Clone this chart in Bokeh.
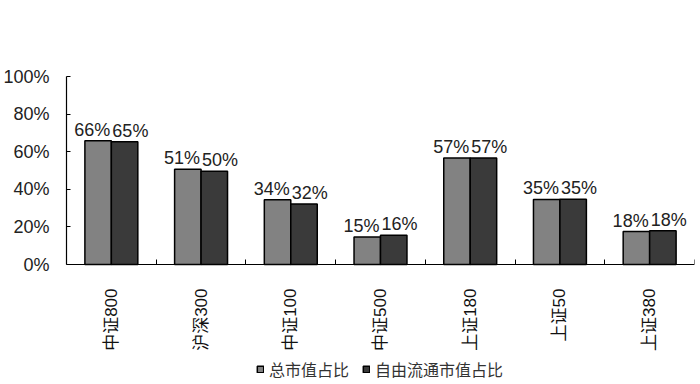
from bokeh.plotting import figure
from bokeh.models import (ColumnDataSource, Range1d, FixedTicker, Legend, LegendItem)
from bokeh.transform import dodge
from bokeh.embed import file_html
from bokeh.resources import INLINE
import math

categories = ["中证800", "沪深300", "中证100", "中证500", "上证180", "上证50", "上证380"]
total_share = [65.8, 50.6, 34.4, 14.6, 56.7, 34.6, 17.5]
free_share = [65.3, 49.6, 32.2, 15.6, 56.6, 34.7, 18.0]
series_names = ["总市值占比", "自由流通市值占比"]
y_ticks = [0, 20, 40, 60, 80, 100]

xs = [i + 0.5 for i in range(len(categories))]
src = ColumnDataSource(dict(
    x=xs,
    total=total_share,
    free=free_share,
    total_lbl=[f"{round(v)}%" for v in total_share],
    free_lbl=[f"{round(v)}%" for v in free_share],
))

LAT = "'Liberation Sans', 'Noto Sans CJK SC'"
CJK = "'Noto Sans CJK SC'"

# frame spans from the top margin to the bottom of the window; the value axis
# (0..100) occupies the upper 188 px, the rest holds category labels and legend
FRAME_H = 308
PX_PER_UNIT = 188 / 100
y_low = -(FRAME_H - 188) / PX_PER_UNIT

p = figure(frame_width=628, frame_height=FRAME_H, output_backend="svg",
           toolbar_location=None,
           x_range=Range1d(0, len(categories)), y_range=Range1d(y_low, 100),
           min_border_left=66, min_border_right=6, min_border_top=76,
           min_border_bottom=0)
p.outline_line_color = None
p.grid.grid_line_color = None
p.background_fill_color = "white"
p.border_fill_color = "white"

w = 0.295
r1 = p.vbar(x=dodge("x", -w / 2, range=p.x_range), top="total", width=w, source=src,
            fill_color="#828282", line_color="black", line_width=1.5)
r2 = p.vbar(x=dodge("x", w / 2, range=p.x_range), top="free", width=w, source=src,
            fill_color="#3a3a3a", line_color="black", line_width=1.5)

p.text(x="x", y="total", text="total_lbl", source=src, x_offset=-1, y_offset=-11,
       text_align="right", text_baseline="alphabetic", text_font_size="18px",
       text_font={"value": "Liberation Sans"}, text_color="#222222")
p.text(x="x", y="free", text="free_lbl", source=src, x_offset=1, y_offset=-11,
       text_align="left", text_baseline="alphabetic", text_font_size="18px",
       text_font={"value": "Liberation Sans"}, text_color="#222222")

# y axis
ya = p.yaxis[0]
ya.ticker = FixedTicker(ticks=y_ticks)
ya.major_label_overrides = {t: f"{t}%" for t in y_ticks}
ya.bounds = (0, 100)
ya.major_tick_in = 4
ya.major_tick_out = 0
ya.minor_tick_line_color = None
ya.major_label_standoff = 17
ya.major_label_text_font_size = "18px"
ya.major_label_text_font = "Liberation Sans"
ya.major_label_text_color = "#222222"
ya.axis_line_color = "black"
ya.axis_line_width = 1.2

# x axis, drawn at value 0
xa = p.xaxis[0]
xa.fixed_location = 0
xa.ticker = FixedTicker(ticks=xs, minor_ticks=list(range(len(categories) + 1)))
xa.major_label_overrides = {x: c for x, c in zip(xs, categories)}
xa.major_tick_line_color = None
xa.minor_tick_in = 5
xa.minor_tick_out = 0
xa.minor_tick_line_color = "black"
xa.major_label_orientation = math.pi / 2
xa.major_label_standoff = 18
xa.major_label_text_font_size = "17px"
xa.major_label_text_font = LAT
xa.major_label_text_color = "#111111"
xa.axis_line_color = "black"
xa.axis_line_width = 1.2

legend = Legend(items=[LegendItem(label=series_names[0], renderers=[r1]),
                       LegendItem(label=series_names[1], renderers=[r2])],
                orientation="horizontal", location=(190, 3), padding=0, margin=0,
                spacing=13, label_standoff=5, glyph_width=8, glyph_height=8,
                label_text_font_size="16px", label_text_font=CJK,
                label_text_color="#333333", border_line_color=None,
                background_fill_alpha=0, label_height=16)
p.add_layout(legend, "center")

open("out.html", "w").write(file_html(p, INLINE))
